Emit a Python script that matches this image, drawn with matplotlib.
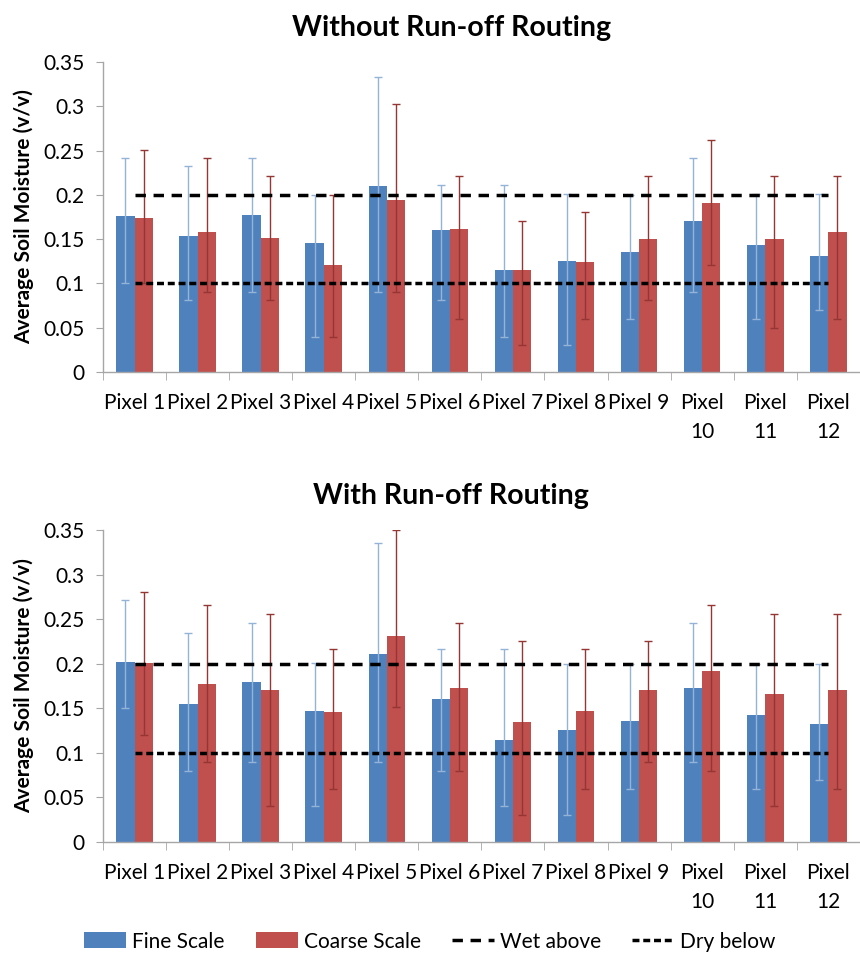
import matplotlib.pyplot as plt
import numpy as np
from matplotlib.lines import Line2D
from matplotlib.patches import Patch

plt.rcParams['font.family'] = ['Lato', 'DejaVu Sans']

pixels = ['Pixel 1', 'Pixel 2', 'Pixel 3', 'Pixel 4', 'Pixel 5', 'Pixel 6',
          'Pixel 7', 'Pixel 8', 'Pixel 9', 'Pixel\n10', 'Pixel\n11', 'Pixel\n12']

# Without run-off routing: mean, lower and upper end of the error bars
fine_no = [0.176, 0.153, 0.177, 0.146, 0.210, 0.160, 0.115, 0.125, 0.135, 0.171, 0.143, 0.131]
fine_no_lo = [0.100, 0.081, 0.090, 0.040, 0.090, 0.081, 0.040, 0.030, 0.060, 0.090, 0.060, 0.070]
fine_no_hi = [0.242, 0.232, 0.242, 0.200, 0.333, 0.211, 0.211, 0.201, 0.200, 0.242, 0.201, 0.201]
coarse_no = [0.174, 0.158, 0.151, 0.121, 0.194, 0.161, 0.115, 0.124, 0.150, 0.191, 0.150, 0.158]
coarse_no_lo = [0.100, 0.090, 0.081, 0.040, 0.090, 0.060, 0.030, 0.060, 0.081, 0.121, 0.050, 0.060]
coarse_no_hi = [0.251, 0.242, 0.221, 0.200, 0.302, 0.221, 0.171, 0.181, 0.221, 0.262, 0.221, 0.221]

# With run-off routing
fine_rr = [0.202, 0.155, 0.179, 0.147, 0.211, 0.161, 0.115, 0.126, 0.136, 0.173, 0.143, 0.132]
fine_rr_lo = [0.150, 0.080, 0.090, 0.040, 0.090, 0.080, 0.040, 0.030, 0.060, 0.090, 0.060, 0.070]
fine_rr_hi = [0.271, 0.235, 0.246, 0.201, 0.336, 0.216, 0.216, 0.200, 0.200, 0.246, 0.200, 0.200]
coarse_rr = [0.201, 0.177, 0.170, 0.146, 0.231, 0.173, 0.135, 0.147, 0.170, 0.192, 0.166, 0.170]
coarse_rr_lo = [0.120, 0.090, 0.040, 0.060, 0.152, 0.080, 0.030, 0.060, 0.090, 0.080, 0.040, 0.060]
coarse_rr_hi = [0.280, 0.266, 0.256, 0.216, 0.350, 0.246, 0.226, 0.216, 0.226, 0.266, 0.256, 0.256]

wet_level = 0.2
dry_level = 0.1
yticks = [0, 0.05, 0.1, 0.15, 0.2, 0.25, 0.3, 0.35]
ytick_labels = ['0', '0.05', '0.1', '0.15', '0.2', '0.25', '0.3', '0.35']

blue = '#4F81BD'
red = '#C0504D'
blue_err = '#95B3D7'
red_err = '#943634'
axis_grey = '#A6A6A6'
wet_style = (0, (3, 2.2))
dry_style = (0, (2, 1.1))

fig = plt.figure(figsize=(8.6, 9.55), dpi=100)
ax_top = fig.add_axes([0.1198, 0.6105, 0.8800, 0.3246])
ax_bot = fig.add_axes([0.1198, 0.1183, 0.8800, 0.3267])

x = np.arange(len(pixels))
w = 0.29


def draw_panel(ax, title, fine, fine_lo, fine_hi, coarse, coarse_lo, coarse_hi):
    fine = np.array(fine)
    coarse = np.array(coarse)
    ax.bar(x - w / 2, fine, w, color=blue, zorder=1)
    ax.bar(x + w / 2, coarse, w, color=red, zorder=1)
    ax.errorbar(x - w / 2, fine, yerr=[fine - np.array(fine_lo), np.array(fine_hi) - fine],
                fmt='none', ecolor=blue_err, elinewidth=1, capsize=3, capthick=1, zorder=2)
    ax.errorbar(x + w / 2, coarse, yerr=[coarse - np.array(coarse_lo), np.array(coarse_hi) - coarse],
                fmt='none', ecolor=red_err, elinewidth=1, capsize=3, capthick=1, zorder=2)

    # threshold lines run from the first to the last category centre
    ax.plot(x, [wet_level] * len(x), color='black', lw=2.5, linestyle=wet_style, zorder=3)
    ax.plot(x, [dry_level] * len(x), color='black', lw=2.5, linestyle=dry_style, zorder=3)

    ax.set_xlim(-0.5, len(pixels) - 0.5)
    ax.set_ylim(0, 0.35)
    ax.set_yticks(yticks)
    ax.set_yticklabels(ytick_labels, fontsize=15)
    ax.set_xticks(x)
    ax.set_xticklabels(pixels, fontsize=15, linespacing=1.55, va='top')
    ax.set_xticks(np.arange(-0.5, len(pixels)), minor=True)
    ax.tick_params(axis='x', which='major', length=0, pad=15)
    ax.tick_params(axis='x', which='minor', length=6, color=axis_grey, direction='out')
    ax.tick_params(axis='y', length=5, color=axis_grey, pad=8)

    for side in ['top', 'right']:
        ax.spines[side].set_visible(False)
    for side in ['left', 'bottom']:
        ax.spines[side].set_color(axis_grey)
        ax.spines[side].set_linewidth(1)

    ax.set_ylabel('Average Soil Moisture (v/v)', fontsize=15, fontweight='bold', labelpad=7)
    ax.set_title(title, fontsize=20.5, fontweight='bold', pad=19, x=0.46)


draw_panel(ax_top, 'Without Run-off Routing',
           fine_no, fine_no_lo, fine_no_hi, coarse_no, coarse_no_lo, coarse_no_hi)
draw_panel(ax_bot, 'With Run-off Routing',
           fine_rr, fine_rr_lo, fine_rr_hi, coarse_rr, coarse_rr_lo, coarse_rr_hi)

legend_elements = [
    Patch(facecolor=blue, label='Fine Scale'),
    Patch(facecolor=red, label='Coarse Scale'),
    Line2D([0], [0], color='black', lw=2.5, linestyle=wet_style, label='Wet above'),
    Line2D([0], [0], color='black', lw=2.5, linestyle=dry_style, label='Dry below'),
]
fig.legend(handles=legend_elements, loc='center', bbox_to_anchor=(0.5, 0.014),
           ncol=4, frameon=False, fontsize=15, handlelength=2.0, handleheight=0.8,
           handletextpad=0.3, columnspacing=1.5)

fig.savefig('out.png', dpi=100)
